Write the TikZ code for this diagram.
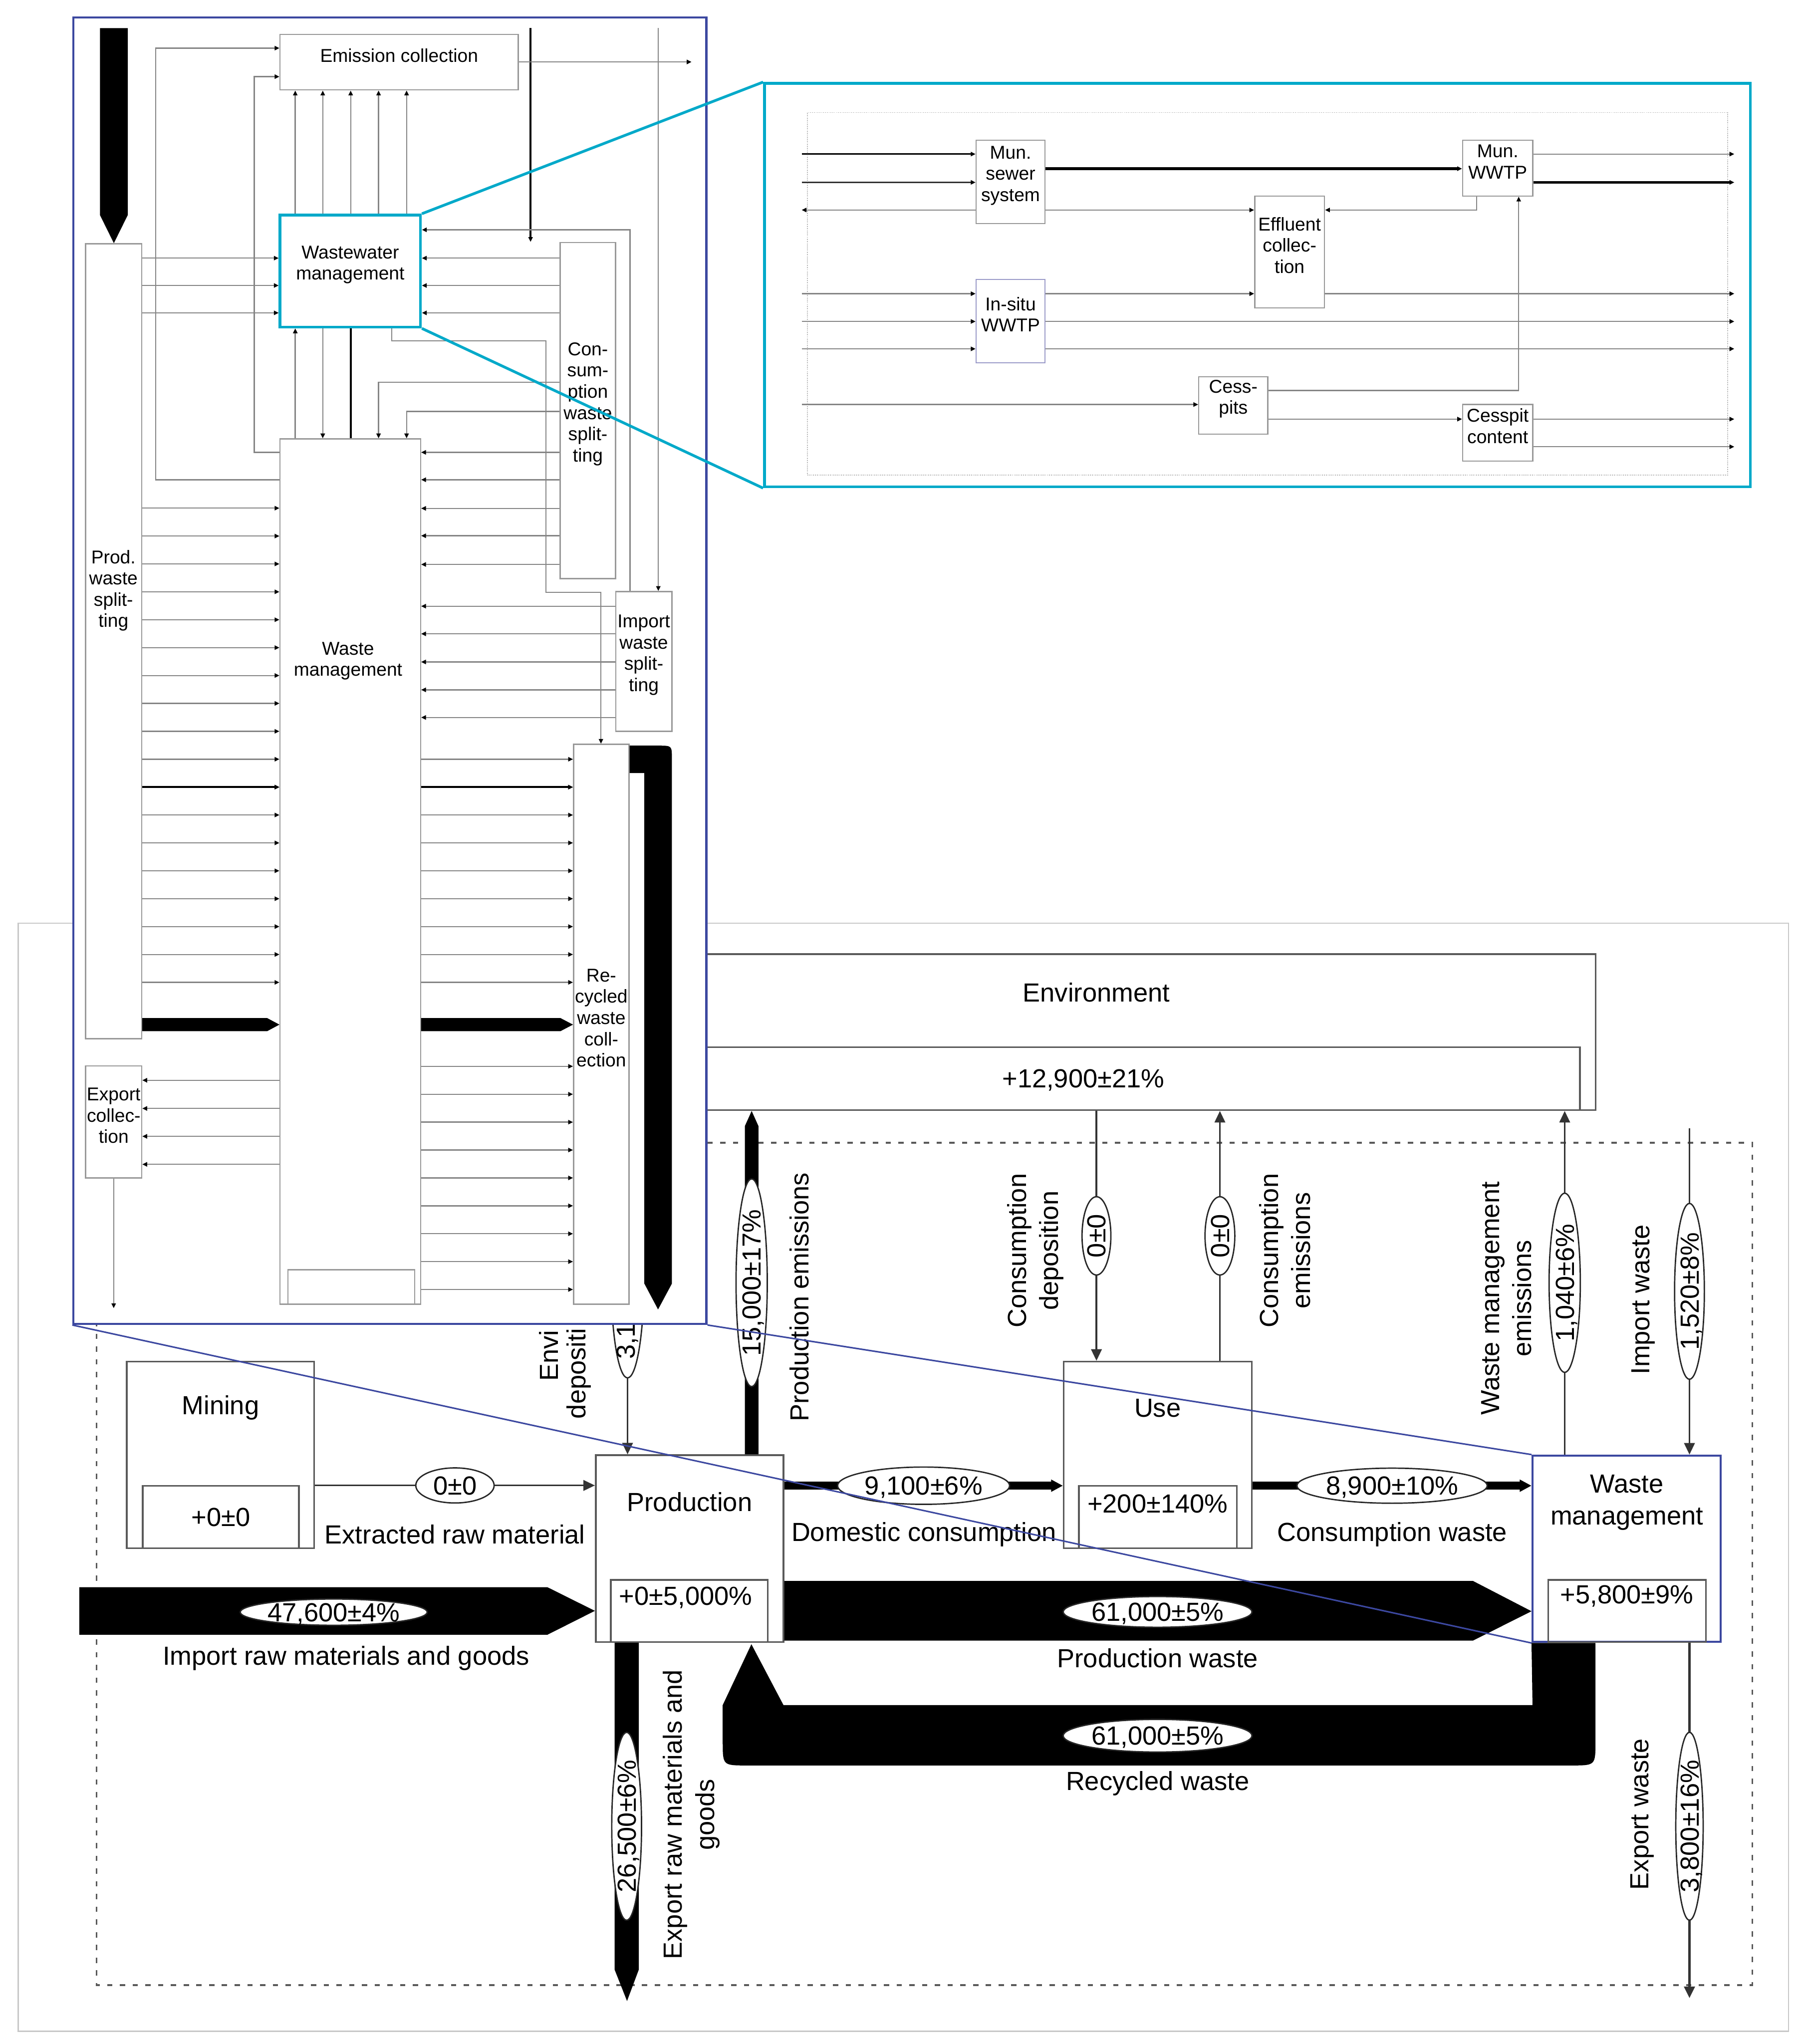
\documentclass[tikz,border=0pt]{standalone}
\usepackage{fontspec}
\setmainfont{Liberation Sans}
\usetikzlibrary{arrows.meta,shapes.geometric,fit,calc}
\definecolor{boxgray}{HTML}{5A5A5A}
\definecolor{linegray}{HTML}{858585}
\definecolor{framegray}{HTML}{C8C8C8}
\definecolor{zoomblue}{HTML}{3C48A0}
\definecolor{zoomcyan}{HTML}{00A9C9}
\definecolor{insitublue}{HTML}{9A9AC8}
\newcommand{\mainfs}{\fontsize{15.5}{19}\selectfont}
\newcommand{\insetfs}{\fontsize{11}{12.6}\selectfont}
\tikzset{
  box/.style={draw=boxgray, line width=1pt, fill=white, inner sep=0pt},
  valbox/.style={draw=boxgray, line width=1pt, inner sep=0pt},
  lbl/.style={font=\mainfs, inner sep=0pt, align=center},
  vlbl/.style={lbl, rotate=90},
  flow/.style={draw=black!80, line width=1pt, -{Triangle[length=2.4mm,width=2.2mm]}},
  fatflow/.style={draw=black, line width=1.63mm, -{Triangle[length=2.45mm,width=2.4mm]}},
  band/.style={fill=black},
  oval/.style={ellipse, draw=black!85, line width=0.8pt, fill=white, inner sep=0pt, text height=11pt, text depth=0pt, font=\mainfs},
  voval/.style={oval, rotate=90},
  ibox/.style={draw=gray!80, line width=0.7pt, fill=white, inner sep=0pt, font=\insetfs, align=center},
  ilbl/.style={font=\insetfs, align=center, inner sep=0pt},
  iflow/.style={draw=linegray, line width=0.7pt, -{Triangle[length=1mm,width=0.9mm,color=black]}},
  ibold/.style={draw=black, line width=1.3pt},
}

\begin{document}
\begin{tikzpicture}[x=0.2713mm, y=-0.2713mm]
  \useasboundingbox (0,0) rectangle (1382,1568);
  \fill[white] (0,0) rectangle (1382,1568);
  % frame and system boundary
  \draw[framegray, line width=0.8pt] (14.1,708.2) rectangle (1372,1558.2);
  \draw[boxgray, line width=1pt, dash pattern=on 1.1mm off 1.55mm] (74,876.6) rectangle (1344.2,1522.8);

  % processes
  \node[box, fit={(458,732) (1224,851.6)}] (env) {};
  \node[valbox, fit={(458,803.4) (1212,851.6)}] (envval) {};
  \node[lbl] (envlbl) at (841,761.5) {Environment};
  \node[lbl] (envnum) at (831,828.7) {+12,900±21\%};

  \node[box, fit={(97.3,1044.5) (241,1187.7)}] (mining) {};
  \node[valbox, fit={(109.5,1139.8) (229.3,1187.7)}] (miningval) {};
  \node[lbl] (mininglbl) at (169.2,1080) {Mining};
  \node[lbl] (miningnum) at (169.4,1164) {+0±0};

  \node[box, fit={(457,1116.3) (601,1259.6)}] (prod) {};
  \node[valbox, fit={(468.6,1212) (589,1259.6)}] (prodval) {};
  \node[lbl] (prodlbl) at (529,1152) {Production};
  \node[lbl] (prodnum) at (526,1225.5) {+0±5,000\%};

  \node[box, fit={(816,1044.5) (960.3,1187.7)}] (use) {};
  \node[valbox, fit={(827.6,1139.8) (948.7,1187.7)}] (useval) {};
  \node[lbl] (uselbl) at (888,1080) {Use};
  \node[lbl] (usenum) at (888,1153.6) {+200±140\%};

  \node[box, draw=zoomblue, line width=1.2pt, fit={(1175.6,1116.6) (1320,1259.6)}] (wm) {};
  \node[valbox, fit={(1187.6,1212) (1308.7,1259.6)}] (wmval) {};
  \node[lbl] (wmlbl) at (1248,1152.5) {Waste\\management};
  \node[lbl] (wmnum) at (1248,1224.5) {+5,800±9\%};

  % extracted raw material
  \draw[flow] (mining.east |- 0,1139.5) -- (prod.west |- 0,1139.5)
    node[oval, midway, minimum width=16.3mm, minimum height=7.3mm] (extnum) {0±0};
  \node[lbl] (extlbl) at (349,1177) {Extracted raw material};
  % import raw materials and goods
  \coordinate (impstart) at (60.8,1235.7);
  \fill[band] (impstart |- 0,1217.6) -- (420,1217.6) -- (prod.west |- 0,1235.7) -- (420,1254) -- (impstart |- 0,1254) -- cycle;
  \node[oval, minimum width=38.8mm, minimum height=5.4mm] (impnum) at (256,1236.7) {47,600±4\%};
  \node[lbl] (implbl) at (265.5,1272) {Import raw materials and goods};
  % domestic consumption
  \draw[fatflow] (prod.east |- 0,1139.7) -- (use.west |- 0,1139.7)
    node[oval, midway, minimum width=35.8mm, minimum height=7.76mm] (domnum) {9,100±6\%};
  \node[lbl] (domlbl) at (708.7,1177) {Domestic consumption};
  % consumption waste
  \draw[fatflow] (use.east |- 0,1139.7) -- (wm.west |- 0,1139.7)
    node[oval, midway, minimum width=39.6mm, minimum height=7.3mm] (cwnum) {8,900±10\%};
  \node[lbl] (cwlbl) at (1068,1177) {Consumption waste};
  % production waste
  \fill[band] (prod.east |- 0,1212.8) -- (1130,1212.8) -- (wm.west |- 0,1236) -- (1130,1258.5) -- (prod.east |- 0,1258.5) -- cycle;
  \node[oval, minimum width=39.3mm, minimum height=6.4mm] (pwnum) at (888,1236.5) {61,000±5\%};
  \node[lbl] (pwlbl) at (888,1272) {Production waste};
  % recycled waste
  \coordinate (rectip) at (576.4,1261.3);
  \fill[band] (wm.south west) -- (1175.6,1308) -- (601,1308) -- (rectip) -- (554.4,1308) -- (554.4,1336)
    .. controls (554.4,1354.3) .. (572.7,1354.3) -- (1205.6,1354.3)
    .. controls (1223.9,1354.3) .. (1223.9,1336) -- (wm.south -| 1223.9,0) -- cycle;
  \node[oval, minimum width=39.3mm, minimum height=6.8mm] (rwnum) at (888,1331.5) {61,000±5\%};
  \node[lbl] (rwlbl) at (888,1368) {Recycled waste};
  % export raw materials and goods
  \coordinate (exptip) at (481,1535);
  \fill[band] (prod.south -| 471.5,0) -- (471.5,1511) -- (exptip) -- (490,1511) -- (prod.south -| 490,0) -- cycle;
  \node[voval, minimum width=39.1mm, minimum height=6.2mm] (expnum) at (480.7,1401) {26,500±6\%};
  \node[vlbl] (explbl) at (530.3,1392) {Export raw materials and\\goods};
  % production emissions
  \fill[band] (prod.north -| 571.4,0) -- (571.4,863.8) -- (env.south -| 576.6,0) -- (581.8,863.8) -- (prod.north -| 581.8,0) -- cycle;
  \node[voval, minimum width=41.8mm, minimum height=6.5mm] (penum) at (576.6,984) {15,000±17\%};
  \node[vlbl] (pelbl) at (613,995) {Production emissions};
  % environmental deposition
  \draw[flow] (env.south -| 481.4,0) -- (prod.north -| 481.4,0);
  \node[voval, minimum width=40.7mm, minimum height=6.8mm] (ednum) at (481.4,982) {};
  \node[vlbl, anchor=west] (ednumtxt) at (481.4,1043) {3,1};
  \node[vlbl, anchor=west] (edlbla) at (421,1059.8) {Envi};
  \node[vlbl, anchor=west] (edlblb) at (444,1088.6) {depositi};
  % consumption deposition and emissions
  \draw[flow] (env.south -| 841.1,0) -- (use.north -| 841.1,0)
    node[voval, midway, minimum width=16.3mm, minimum height=6mm] (cdnum) {0±0};
  \node[vlbl] (cdlbl) at (794.3,959.4) {Consumption\\deposition};
  \draw[flow] (use.north -| 935.8,0) -- (env.south -| 935.8,0)
    node[voval, midway, minimum width=16.3mm, minimum height=6.2mm] (cenum) {0±0};
  \node[vlbl] (celbl) at (985.7,959.4) {Consumption\\emissions};
  % waste management emissions
  \draw[flow] (wm.north -| 1200.3,0) -- (env.south -| 1200.3,0)
    node[voval, midway, minimum width=37.3mm, minimum height=6.5mm] (wmenum) {1,040±6\%};
  \node[vlbl] (wmelbl) at (1155.7,996) {Waste management\\emissions};
  % import waste
  \coordinate (iwstart) at (1296,865.4);
  \draw[flow] (iwstart) -- (wm.north -| iwstart)
    node[voval, midway, minimum width=36.6mm, minimum height=6.2mm] (iwnum) {1,520±8\%};
  \node[vlbl] (iwlbl) at (1260.6,997) {Import waste};
  % export waste
  \coordinate (ewend) at (1296,1532.8);
  \draw[flow, line width=1.4pt] (wm.south -| ewend) -- (ewend)
    node[voval, pos=0.516, minimum width=39.1mm, minimum height=5.7mm] (ewnum) {3,800±16\%};
  \node[vlbl] (ewlbl) at (1259.6,1391.7) {Export waste};

  % detail: waste management
  \node[draw=zoomblue, line width=1.3pt, fill=white, inner sep=0pt, fit={(56.3,13.3) (541.9,1015.6)}] (detail) {};
  \node[ibox, fit={(214.8,26.4) (397.6,69)}] (emcoll) {Emission collection};
  \node[ibox, fit={(65.7,187) (108.7,796.8)}] (pws) {};
  \node[ilbl] (pwslbl) at (87,453) {Prod.\\waste\\split-\\ting};
  \node[ibox, draw=zoomcyan, line width=1.6pt, fit={(214.8,165) (322.6,250.9)}] (wwm) {Wastewater\\management};
  \node[ibox, fit={(429.7,186) (472.2,443.8)}] (cws) {Con-\\sum-\\ption\\waste\\split-\\ting};
  \node[ibox, fit={(214.8,336.7) (322.6,1000.5)}] (wmi) {};
  \node[ibox, fit={(221,974) (318,1000.5)}] (wmisub) {};
  \node[ilbl] (wmilbl) at (267,507) {Waste\\management};
  \node[ibox, fit={(472.3,453.8) (515.4,561)}] (iws) {Import\\waste\\split-\\ting};
  \node[ibox, fit={(440,571) (482.5,1000.5)}] (rwc) {Re-\\cycled\\waste\\coll-\\ection};
  \node[ibox, fit={(65.7,817.7) (108.7,903.6)}] (exc) {Export\\collec-\\tion};

  % inflows from the top
  \coordinate (itop) at (0,21.6);
  \fill (76.7,21.6) -- (98,21.6) -- (98,165) -- (pws.north -| 87.35,0) -- (76.7,165) -- cycle;
  \draw[iflow, ibold] (itop -| 407,0) -- (cws.north -| 407,0);
  \draw[iflow] (itop -| 505,0) -- (iws.north -| 505,0);
  % to wastewater management
  \foreach \yy in {198,219,240} {
    \draw[iflow] (pws.east |- 0,\yy) -- (wwm.west |- 0,\yy);
    \draw[iflow] (cws.west |- 0,\yy) -- (wwm.east |- 0,\yy);
  }
  \draw[iflow] (iws.north -| 483.3,0) |- (wwm.east |- 0,176.3);
  % to emission collection
  \foreach \xx in {226.5,247.6,269,290.4,311.9}
    \draw[iflow] (wwm.north -| \xx,0) -- (emcoll.south -| \xx,0);
  \draw[iflow] (wmi.west |- 0,368) -| (119.4,36.9) -- (emcoll.west |- 0,36.9);
  \draw[iflow] (wmi.west |- 0,347) -| (195,58.8) -- (emcoll.west |- 0,58.8);
  \coordinate (ecout) at (530.5,47.5);
  \draw[iflow] (emcoll.east |- ecout) -- (ecout);
  % wastewater management <-> waste management
  \draw[iflow] (wmi.north -| 226.5,0) -- (wwm.south -| 226.5,0);
  \draw[iflow] (wwm.south -| 247.6,0) -- (wmi.north -| 247.6,0);
  \draw[ibold] (wwm.south -| 269,0) -- (wmi.north -| 269,0);
  \draw[iflow] (cws.west |- 0,293.2) -| (wmi.north -| 290.4,0);
  \draw[iflow] (cws.west |- 0,315.6) -| (wmi.north -| 311.9,0);
  \draw[iflow] (wwm.south -| 300.4,0) |- (418.7,261.4) |- (461,454.4) -- (rwc.north -| 461,0);
  % into waste management
  \foreach \yy in {347,368,390,411,433}
    \draw[iflow] (cws.west |- 0,\yy) -- (wmi.east |- 0,\yy);
  \foreach \yy in {465,486.2,507.8,529.2,550.4}
    \draw[iflow] (iws.west |- 0,\yy) -- (wmi.east |- 0,\yy);
  \foreach \k in {0,...,17} {
    \pgfmathsetmacro\yy{389.8+21.4*\k}
    \draw[iflow] (pws.east |- 0,\yy) -- (wmi.west |- 0,\yy);
  }
  \draw[iflow, ibold] (pws.east |- 0,603.8) -- (wmi.west |- 0,603.8);
  \fill (pws.east |- 0,781) -- (205,781) -- (wmi.west |- 0,786) -- (205,791) -- (pws.east |- 0,791) -- cycle;
  % out of waste management
  \foreach \k in {9,...,17} {
    \pgfmathsetmacro\yy{389.8+21.4*\k}
    \draw[iflow] (wmi.east |- 0,\yy) -- (rwc.west |- 0,\yy);
  }
  \draw[iflow, ibold] (wmi.east |- 0,603.8) -- (rwc.west |- 0,603.8);
  \foreach \yy in {818,839.4,860.8,882.2,903.6,925,946.4,967.8,989.2}
    \draw[iflow] (wmi.east |- 0,\yy) -- (rwc.west |- 0,\yy);
  \fill (wmi.east |- 0,781) -- (430,781) -- (rwc.west |- 0,786) -- (430,791) -- (wmi.east |- 0,791) -- cycle;
  \foreach \yy in {828.7,850.3,871.7,893.2}
    \draw[iflow] (wmi.west |- 0,\yy) -- (exc.east |- 0,\yy);
  \coordinate (excout) at (87.2,1003.5);
  \draw[iflow] (exc.south) -- (excout);
  % recycled waste back to production
  \fill (rwc.east |- 0,572) -- (505.3,572) .. controls (515.4,572) .. (515.4,582) -- (515.4,984.7)
    -- (504.8,1004.5) -- (494.3,984.7) -- (494.3,593) -- (rwc.east |- 0,593) -- cycle;

  % detail: wastewater management
  \node[draw=zoomcyan, line width=1.6pt, fill=white, inner sep=0pt, fit={(586.4,64) (1342.6,373.4)}] (zoomww) {};
  \node[draw=gray!60, line width=0.5pt, dash pattern=on 0.5pt off 0.6pt, inner sep=0pt, fit={(619.5,86.3) (1325.4,364.3)}] (wwframe) {};
  \coordinate (wwin) at (615,0);
  \coordinate (wwout) at (1330.4,0);
  \node[ibox, fit={(748.8,107.5) (801.6,171.6)}] (sewer) {Mun.\\sewer\\system};
  \node[ibox, fit={(1122,107.5) (1175.8,150.4)}] (wwtp) {Mun.\\WWTP};
  \node[ibox, fit={(962.5,150.4) (1016,236.3)}] (effl) {Effluent\\collec-\\tion};
  \node[ibox, draw=insitublue, fit={(748.8,214.3) (801.6,278.4)}] (insitu) {In-situ\\WWTP};
  \node[ibox, fit={(919.6,288.9) (972.5,333)}] (cess) {Cess-\\pits};
  \node[ibox, fit={(1122,310.3) (1175.8,353.6)}] (cessc) {Cesspit\\content};
  % sewer line
  \draw[iflow, draw=black, line width=1pt] (wwin |- 0,118.2) -- (sewer.west |- 0,118.2);
  \draw[iflow, draw=black!80, line width=1pt] (wwin |- 0,139.9) -- (sewer.west |- 0,139.9);
  \draw[iflow] (sewer.west |- 0,161.1) -- (wwin |- 0,161.1);
  \draw[iflow, draw=black, line width=1.5pt] (sewer.east |- 0,129.4) -- (wwtp.west |- 0,129.4);
  \draw[iflow] (sewer.east |- 0,161.1) -- (effl.west |- 0,161.1);
  \draw[iflow] (wwtp.south -| 1132.8,0) |- (effl.east |- 0,161.1);
  \draw[iflow] (wwtp.east |- 0,118.2) -- (wwout |- 0,118.2);
  \draw[iflow, draw=black, line width=1.5pt] (wwtp.east |- 0,139.9) -- (wwout |- 0,139.9);
  % in-situ treatment
  \draw[iflow] (wwin |- 0,225.3) -- (insitu.west |- 0,225.3);
  \draw[iflow] (insitu.east |- 0,225.3) -- (effl.west |- 0,225.3);
  \draw[iflow] (effl.east |- 0,225.3) -- (wwout |- 0,225.3);
  \foreach \yy in {246.6,267.6} {
    \draw[iflow] (wwin |- 0,\yy) -- (insitu.west |- 0,\yy);
    \draw[iflow] (insitu.east |- 0,\yy) -- (wwout |- 0,\yy);
  }
  % cesspits
  \draw[iflow] (wwin |- 0,310.3) -- (cess.west |- 0,310.3);
  \draw[iflow] (cess.east |- 0,299.6) -| (wwtp.south -| 1165,0);
  \draw[iflow] (cess.east |- 0,321.5) -- (cessc.west |- 0,321.5);
  \foreach \yy in {321.5,342.7}
    \draw[iflow] (cessc.east |- 0,\yy) -- (wwout |- 0,\yy);

  % zoom lines
  \draw[zoomcyan, line width=1.6pt] (wwm.north east) -- (zoomww.north west);
  \draw[zoomcyan, line width=1.6pt] (wwm.south east) -- (zoomww.south west);
  \draw[zoomblue, line width=0.9pt] (detail.south west) -- (wm.south west);
  \draw[zoomblue, line width=0.9pt] (detail.south east) -- (wm.north west);
\end{tikzpicture}
\end{document}
